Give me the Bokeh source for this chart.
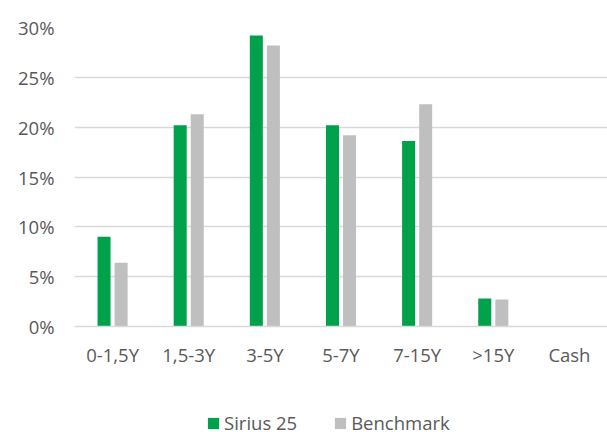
from bokeh.plotting import figure
from bokeh.layouts import column
from bokeh.models import ColumnDataSource, FactorRange, Range1d, Legend, LegendItem, PrintfTickFormatter, FixedTicker
from bokeh.transform import dodge
from bokeh.embed import file_html
from bokeh.resources import INLINE

categories = ["0-1,5Y", "1,5-3Y", "3-5Y", "5-7Y", "7-15Y", ">15Y", "Cash"]
sirius25 = [9.0, 20.2, 29.2, 20.2, 18.6, 2.8, 0.0]
benchmark = [6.4, 21.3, 28.2, 19.2, 22.3, 2.7, 0.0]
y_ticks = [0, 5, 10, 15, 20, 25, 30]
series_names = ["Sirius 25", "Benchmark"]

FONT = "Open Sans"
TXT = "#595959"
GREEN = "#00A14B"
GRAY = "#BFBFBF"

src = ColumnDataSource(dict(cat=categories, s=sirius25, b=benchmark))

p = figure(width=607, height=410, x_range=FactorRange(*categories, range_padding=0),
           y_range=Range1d(0, 30), output_backend="svg", toolbar_location=None,
           min_border_left=74, min_border_right=0, min_border_top=27, min_border_bottom=84)
p.outline_line_color = None

p.vbar(x=dodge("cat", -0.112, range=p.x_range), top="s", width=0.171, source=src,
       fill_color=GREEN, line_color=None)
p.vbar(x=dodge("cat", 0.112, range=p.x_range), top="b", width=0.171, source=src,
       fill_color=GRAY, line_color=None)

p.xgrid.grid_line_color = None
p.ygrid.grid_line_color = "#D9D9D9"
p.ygrid.grid_line_width = 1.3

p.yaxis.ticker = FixedTicker(ticks=y_ticks)
p.yaxis.formatter = PrintfTickFormatter(format="%d%%")
p.yaxis.axis_line_color = None
p.yaxis.major_tick_line_color = None
p.yaxis.minor_tick_line_color = None
p.yaxis.major_tick_out = 0
p.yaxis.major_label_standoff = 20
p.yaxis.major_label_text_font = FONT
p.yaxis.major_label_text_font_size = "18.5px"
p.yaxis.major_label_text_color = TXT

p.xaxis.axis_line_color = "#D9D9D9"
p.xaxis.axis_line_width = 1.3
p.xaxis.major_tick_line_color = None
p.xaxis.minor_tick_line_color = None
p.xaxis.major_tick_out = 0
p.xaxis.major_label_standoff = 15
p.xaxis.major_label_text_font = FONT
p.xaxis.major_label_text_font_size = "18.5px"
p.xaxis.major_label_text_color = TXT

# legend strip below the chart (its frame is aligned with the chart's frame)
lg = figure(width=607, height=22, x_range=Range1d(0, 1), y_range=Range1d(0, 1),
            output_backend="svg", toolbar_location=None,
            x_axis_location=None, y_axis_location=None,
            min_border_left=0, min_border_right=0, min_border_top=0, min_border_bottom=0)
lg.outline_line_color = None
lg.grid.visible = False
g1 = lg.vbar(x=0.5, top="s", width=0.1, source=src, fill_color=GREEN, line_color=None, visible=False)
g2 = lg.vbar(x=0.5, top="b", width=0.1, source=src, fill_color=GRAY, line_color=None, visible=False)

legend = Legend(items=[LegendItem(label=series_names[0], renderers=[g1]),
                       LegendItem(label=series_names[1], renderers=[g2])],
                orientation="horizontal", location=(132, -3),
                padding=0, margin=0, spacing=36, label_standoff=4,
                glyph_width=14, glyph_height=14, label_height=20,
                border_line_color=None, background_fill_alpha=0,
                inactive_fill_alpha=0,
                label_text_font=FONT, label_text_font_size="18.5px", label_text_color=TXT)
lg.add_layout(legend, "center")

layout = column(p, lg, spacing=0)
open("out.html", "w").write(file_html(layout, INLINE))
